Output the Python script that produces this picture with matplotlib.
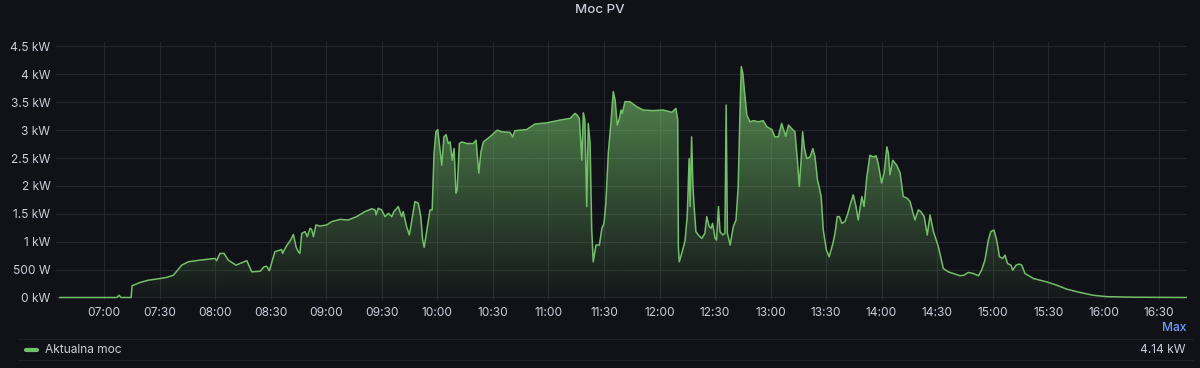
import matplotlib
matplotlib.use("Agg")
import matplotlib.pyplot as plt
import numpy as np
from matplotlib.lines import Line2D
from matplotlib.ticker import FuncFormatter, MultipleLocator

# dane: czas (HH:MM:SS) i moc w kW
times = [
    "06:36:00", "07:06:50", "07:08:00", "07:09:00", "07:14:30", "07:15:00", "07:19:20", "07:23:50",
    "07:30:10", "07:33:40", "07:37:20", "07:41:50", "07:45:20", "07:51:40", "07:57:10", "07:59:50",
    "08:00:40", "08:02:30", "08:04:40", "08:07:00", "08:11:10", "08:17:00", "08:19:40", "08:24:10",
    "08:26:20", "08:27:45", "08:29:10", "08:32:10", "08:35:50", "08:36:20", "08:38:10", "08:40:40",
    "08:42:10", "08:43:40", "08:44:50", "08:45:40", "08:46:40", "08:48:30", "08:49:40", "08:51:10",
    "08:52:00", "08:53:00", "08:54:20", "08:56:30", "09:00:10", "09:02:50", "09:07:20", "09:11:50",
    "09:16:20", "09:20:50", "09:24:30", "09:26:20", "09:26:50", "09:28:00", "09:29:50", "09:31:40",
    "09:33:30", "09:35:20", "09:36:30", "09:38:50", "09:40:40", "09:41:30", "09:43:20", "09:44:50",
    "09:46:10", "09:47:50", "09:49:40", "09:51:00", "09:52:00", "09:52:50", "09:54:10", "09:56:00",
    "09:57:10", "09:58:10", "09:59:10", "10:00:10", "10:01:00", "10:02:20", "10:03:30", "10:04:40",
    "10:05:50", "10:06:50", "10:08:00", "10:09:00", "10:10:00", "10:10:40", "10:11:50", "10:13:10",
    "10:15:50", "10:19:20", "10:20:50", "10:22:20", "10:23:30", "10:24:50", "10:28:20", "10:32:20",
    "10:34:40", "10:39:10", "10:40:40", "10:41:50", "10:48:10", "10:52:40", "10:59:00", "11:06:10",
    "11:11:40", "11:14:20", "11:15:30", "11:16:40", "11:18:00", "11:18:50", "11:19:40", "11:20:40",
    "11:21:30", "11:22:30", "11:23:20", "11:24:10", "11:25:40", "11:27:30", "11:28:50", "11:30:00",
    "11:31:00", "11:32:20", "11:33:40", "11:35:00", "11:36:00", "11:37:10", "11:38:20", "11:39:10",
    "11:39:50", "11:41:20", "11:44:00", "11:47:40", "11:51:10", "11:56:40", "12:02:00", "12:06:40",
    "12:08:50", "12:09:50", "12:10:10", "12:10:40", "12:12:30", "12:13:50", "12:15:00", "12:16:00",
    "12:16:30", "12:17:20", "12:18:00", "12:18:40", "12:19:40", "12:21:00", "12:22:50", "12:24:30",
    "12:25:30", "12:26:50", "12:27:50", "12:28:40", "12:30:00", "12:30:50", "12:31:50", "12:32:40",
    "12:34:10", "12:35:20", "12:36:00", "12:36:40", "12:38:10", "12:39:50", "12:41:20", "12:42:30",
    "12:43:30", "12:44:10", "12:45:00", "12:45:50", "12:47:10", "12:48:50", "12:50:40", "12:53:20",
    "12:56:00", "12:58:00", "13:00:40", "13:02:20", "13:04:10", "13:06:00", "13:08:10", "13:09:40",
    "13:11:20", "13:13:10", "13:14:30", "13:15:30", "13:16:30", "13:17:20", "13:18:10", "13:19:30",
    "13:21:20", "13:22:50", "13:24:00", "13:25:20", "13:26:10", "13:27:20", "13:28:30", "13:30:10",
    "13:31:40", "13:33:40", "13:34:50", "13:36:00", "13:37:10", "13:38:30", "13:40:10", "13:41:30",
    "13:43:00", "13:44:40", "13:46:10", "13:47:20", "13:49:20", "13:50:30", "13:52:00", "13:53:40",
    "13:55:30", "13:57:00", "13:58:10", "14:00:00", "14:01:20", "14:02:50", "14:03:40", "14:04:30",
    "14:06:00", "14:08:10", "14:10:00", "14:11:40", "14:13:50", "14:15:20", "14:18:00", "14:19:50",
    "14:21:10", "14:23:00", "14:24:40", "14:26:10", "14:28:00", "14:30:40", "14:33:20", "14:36:00",
    "14:38:40", "14:42:20", "14:44:30", "14:46:50", "14:49:30", "14:52:20", "14:54:00", "14:55:50",
    "14:57:40", "14:59:00", "15:00:40", "15:02:10", "15:03:40", "15:05:30", "15:06:40", "15:08:00",
    "15:09:50", "15:10:50", "15:12:40", "15:14:20", "15:15:40", "15:17:30", "15:22:00", "15:29:10",
    "15:34:40", "15:40:00", "15:47:10", "15:54:20", "16:01:40", "16:16:00", "16:44:50",
]
power_kw = [
    0.00, 0.00, 0.04, 0.00, 0.00, 0.21, 0.27, 0.31,
    0.34, 0.36, 0.40, 0.58, 0.64, 0.67, 0.69, 0.70,
    0.66, 0.79, 0.79, 0.67, 0.58, 0.66, 0.46, 0.47,
    0.55, 0.56, 0.48, 0.82, 0.86, 0.79, 0.91, 1.03,
    1.13, 0.90, 0.82, 0.79, 1.15, 1.18, 1.09, 1.24,
    1.22, 1.09, 1.30, 1.28, 1.30, 1.36, 1.40, 1.39,
    1.45, 1.54, 1.59, 1.57, 1.48, 1.60, 1.57, 1.45,
    1.51, 1.45, 1.54, 1.63, 1.45, 1.54, 1.27, 1.12,
    1.39, 1.72, 1.69, 1.45, 1.03, 0.90, 1.18, 1.57,
    1.57, 2.58, 2.97, 3.01, 2.76, 2.37, 2.88, 2.92,
    2.76, 2.79, 2.46, 2.67, 1.87, 1.93, 2.76, 2.79,
    2.76, 2.76, 2.82, 2.23, 2.61, 2.79, 2.88, 3.00,
    2.97, 2.96, 2.88, 2.99, 3.01, 3.11, 3.13, 3.18,
    3.21, 3.30, 3.27, 3.21, 2.46, 3.31, 3.18, 1.63,
    3.12, 2.76, 1.24, 0.64, 0.94, 0.94, 1.24, 1.33,
    1.69, 2.60, 3.10, 3.69, 3.54, 3.09, 3.21, 3.36,
    3.30, 3.51, 3.51, 3.42, 3.36, 3.35, 3.36, 3.32,
    3.39, 3.18, 0.91, 0.64, 0.85, 1.03, 1.48, 2.49,
    1.63, 2.88, 2.05, 1.63, 1.18, 1.12, 1.06, 1.15,
    1.45, 1.27, 1.24, 1.33, 1.06, 1.03, 1.63, 1.18,
    1.12, 1.15, 3.45, 1.15, 0.94, 1.27, 1.39, 1.99,
    3.36, 4.14, 4.02, 3.72, 3.27, 3.15, 3.17, 3.15,
    3.17, 3.06, 3.01, 2.88, 2.88, 3.12, 2.89, 3.09,
    3.03, 2.97, 2.46, 1.99, 2.46, 2.97, 2.70, 2.49,
    2.52, 2.67, 2.52, 2.11, 1.99, 1.81, 1.20, 0.85,
    0.73, 0.97, 1.15, 1.45, 1.45, 1.33, 1.36, 1.48,
    1.66, 1.84, 1.63, 1.39, 1.81, 1.63, 2.16, 2.55,
    2.52, 2.54, 2.40, 2.05, 2.23, 2.70, 2.58, 2.20,
    2.46, 2.37, 2.23, 1.81, 1.78, 1.72, 1.39, 1.57,
    1.54, 1.45, 1.12, 1.48, 1.18, 0.91, 0.52, 0.46,
    0.43, 0.39, 0.40, 0.45, 0.43, 0.39, 0.49, 0.67,
    1.03, 1.18, 1.21, 1.03, 0.73, 0.70, 0.76, 0.61,
    0.58, 0.49, 0.58, 0.60, 0.58, 0.43, 0.34, 0.28,
    0.22, 0.15, 0.09, 0.04, 0.015, 0.005, 0.00,
]
series_name = "Aktualna moc"
title = "Moc PV"

# kolory w stylu Grafany
BG = "#111217"
GREEN = "#73BF69"
TEXT = "#ccccdc"
GRID = "#26272d"

plt.rcParams["font.family"] = ["Inter", "DejaVu Sans"]


def to_minutes(s):
    h, m, sec = [int(p) for p in s.split(":")]
    return h * 60 + m + sec / 60.0


t = np.array([to_minutes(s) for s in times])
v = np.array(power_kw)

fig = plt.figure(figsize=(12, 3.68), dpi=100, facecolor=BG)
ax = fig.add_axes([56 / 1200, 1 - 300 / 368, 1131 / 1200, 258 / 368])
ax.set_facecolor(BG)

# wypełnienie gradientowe pod linią
vmax = v.max()
fill = ax.fill_between(t, v, 0, facecolor="none", edgecolor="none")
rgb = matplotlib.colors.to_rgb(GREEN)
grad = np.zeros((256, 1, 4))
grad[:, 0, :3] = rgb
grad[:, 0, 3] = np.linspace(0.04, 0.72, 256)
im = ax.imshow(grad, extent=[t.min(), t.max(), 0, vmax], origin="lower",
               aspect="auto", zorder=2, interpolation="bilinear")
im.set_clip_path(fill.get_paths()[0], transform=ax.transData)

ax.plot(t, v, color=GREEN, lw=1.1, zorder=3, solid_joinstyle="round")

ax.set_xlim(393.9, 1005.0)
ax.set_ylim(-0.045, 4.58)

ax.xaxis.set_major_locator(MultipleLocator(30))
ax.yaxis.set_major_locator(MultipleLocator(0.5))
ax.xaxis.set_major_formatter(FuncFormatter(lambda x, p: f"{int(x // 60):02d}:{int(x % 60):02d}"))


def kw_fmt(y, p):
    if abs(y) < 1e-9:
        return "0 kW"
    if y < 1:
        return f"{y * 1000:.0f} W"
    return f"{y:g} kW"


ax.yaxis.set_major_formatter(FuncFormatter(kw_fmt))
ax.tick_params(colors=TEXT, labelsize=8.6, length=0)
ax.tick_params(axis="y", pad=4)
ax.tick_params(axis="x", pad=5)
ax.grid(True, color=GRID, lw=0.8)
ax.set_axisbelow(True)
for sp in ax.spines.values():
    sp.set_visible(False)

# tytuł
fig.text(0.5, 1 - 10 / 368, title, color=TEXT, fontsize=9.6, fontweight="medium",
         ha="center", va="center")

# legenda na dole
for yy in (339, 360):
    fig.add_artist(Line2D([18 / 1200, 1193 / 1200], [1 - yy / 368] * 2, color="#202127", lw=0.8))
fig.add_artist(Line2D([26 / 1200, 37 / 1200], [1 - 350 / 368] * 2, color=GREEN, lw=3,
                      solid_capstyle="round"))
fig.text(45 / 1200, 1 - 350 / 368, series_name, color=TEXT, fontsize=8.6, va="center")
fig.text(1186 / 1200, 1 - 328 / 368, "Max", color="#6E9FFF", fontsize=8.6,
         fontweight="medium", ha="right", va="center")
fig.text(1186 / 1200, 1 - 350 / 368, f"{vmax:.2f} kW", color=TEXT, fontsize=8.6,
         ha="right", va="center")

fig.savefig("out.png", dpi=100, facecolor=BG)
